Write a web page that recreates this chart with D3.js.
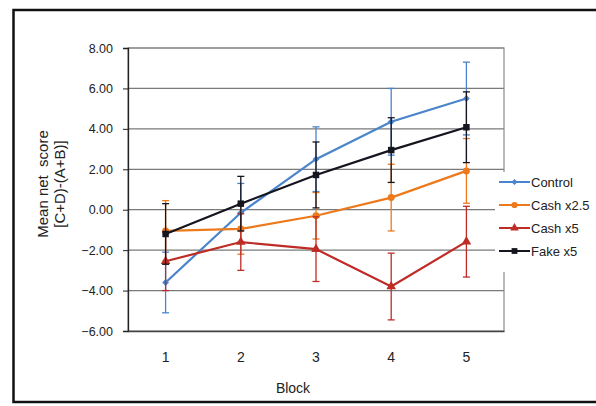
<!DOCTYPE html>
<html>
<head>
<meta charset="utf-8">
<script src="https://cdn.jsdelivr.net/npm/d3@7"></script>
<style>
  html, body { margin: 0; padding: 0; background: #fff; }
  svg { display: block; font-family: "Liberation Sans", Arial, sans-serif; }
</style>
</head>
<body>
<div id="chart"></div>
<script>
// block numbers on the x axis
const blocks = ['1', '2', '3', '4', '5'];
const yTicks = [-6, -4, -2, 0, 2, 4, 6, 8];

// series means and error bar half-widths
const controlMean = [-3.6, -0.15, 2.5, 4.35, 5.5];
const controlErr  = [1.5, 1.45, 1.6, 1.65, 1.8];
const cash25Mean  = [-1.05, -0.95, -0.3, 0.6, 1.92];
const cash25Err   = [1.5, 1.25, 1.15, 1.65, 1.6];
const cash5Mean   = [-2.55, -1.6, -1.95, -3.8, -1.58];
const cash5Err    = [1.45, 1.4, 1.6, 1.65, 1.75];
const fakeMean    = [-1.2, 0.3, 1.72, 2.95, 4.08];
const fakeErr     = [1.5, 1.35, 1.63, 1.6, 1.75];

const series = [
  { name: 'Control',   mean: controlMean, err: controlErr, color: '#4a84cc', marker: d3.symbolDiamond2, size: 30 },
  { name: 'Cash x2.5', mean: cash25Mean,  err: cash25Err,  color: '#ec7a1c', marker: d3.symbolCircle,   size: 38 },
  { name: 'Cash x5',   mean: cash5Mean,   err: cash5Err,   color: '#bd2d26', marker: d3.symbolTriangle, size: 40 },
  { name: 'Fake x5',   mean: fakeMean,    err: fakeErr,    color: '#15151f', marker: d3.symbolSquare,   size: 42 }
];

const W = 596, H = 406;
const plot = { left: 128, right: 504, top: 48, bottom: 331 };

const svg = d3.select('#chart').append('svg')
  .attr('width', W).attr('height', H);

// outer frame (right edge runs off the picture)
svg.append('path')
  .attr('d', `M${W + 5},10 H13.5 V402 H${W + 5}`)
  .attr('fill', 'none').attr('stroke', '#111').attr('stroke-width', 2.5);

const x = d3.scaleBand().domain(blocks).range([plot.left, plot.right]);
const y = d3.scaleLinear().domain([-6, 8]).range([plot.bottom, plot.top]);

// gridlines
svg.append('g').selectAll('line')
  .data(yTicks.filter(t => t > -6))
  .enter().append('line')
  .attr('x1', plot.left).attr('x2', plot.right)
  .attr('y1', d => y(d)).attr('y2', d => y(d))
  .attr('stroke', '#7a7a7a').attr('stroke-width', 1.2);

// plot border
svg.append('rect')
  .attr('x', plot.left).attr('y', plot.top)
  .attr('width', plot.right - plot.left).attr('height', plot.bottom - plot.top)
  .attr('fill', 'none').attr('stroke', '#8a8a8a').attr('stroke-width', 1.2);

// y axis
const yAxis = svg.append('g')
  .attr('transform', `translate(${plot.left},0)`)
  .call(d3.axisLeft(y).tickValues(yTicks).tickFormat(d3.format('.2f')).tickSize(5).tickPadding(10));
yAxis.select('.domain').attr('stroke', '#222').attr('stroke-width', 1.3);
yAxis.selectAll('.tick line').attr('stroke', '#222');
yAxis.selectAll('text').attr('font-size', 12.5).attr('fill', '#222')
  .attr('font-family', '"Liberation Sans", Arial, sans-serif');

// x axis
const xAxis = svg.append('g')
  .attr('transform', `translate(0,${plot.bottom})`)
  .call(d3.axisBottom(x).tickSize(0).tickPadding(21));
xAxis.select('.domain').attr('stroke', '#444').attr('stroke-width', 1.3);
xAxis.selectAll('text').attr('font-size', 14).attr('fill', '#222')
  .attr('font-family', '"Liberation Sans", Arial, sans-serif');

// axis titles
svg.append('text')
  .attr('x', 293).attr('y', 393)
  .attr('text-anchor', 'middle').attr('font-size', 14).attr('fill', '#222')
  .text('Block');

const yTitle = svg.append('text')
  .attr('transform', 'translate(48,184) rotate(-90)')
  .attr('text-anchor', 'middle').attr('font-size', 15).attr('fill', '#222');
yTitle.append('tspan').attr('x', 0).attr('dy', 0).text('Mean net\u00a0 score');
yTitle.append('tspan').attr('x', 0).attr('dy', 17).text('[C+D)-(A+B)]');

// series: error bars, line, markers
const cx = i => x(blocks[i]) + x.bandwidth() / 2;
const line = d3.line().x((d, i) => cx(i)).y(d => y(d));

series.forEach(s => {
  const g = svg.append('g');
  const eb = g.append('g').selectAll('g')
    .data(s.mean.map((m, i) => ({ m, e: s.err[i], i })))
    .enter().append('g')
    .attr('stroke', s.color).attr('stroke-width', 1.3);
  eb.append('line')
    .attr('x1', d => cx(d.i)).attr('x2', d => cx(d.i))
    .attr('y1', d => y(d.m - d.e)).attr('y2', d => y(d.m + d.e));
  eb.append('line')
    .attr('x1', d => cx(d.i) - 3.5).attr('x2', d => cx(d.i) + 3.5)
    .attr('y1', d => y(d.m + d.e)).attr('y2', d => y(d.m + d.e));
  eb.append('line')
    .attr('x1', d => cx(d.i) - 3.5).attr('x2', d => cx(d.i) + 3.5)
    .attr('y1', d => y(d.m - d.e)).attr('y2', d => y(d.m - d.e));

  g.append('path')
    .attr('d', line(s.mean))
    .attr('fill', 'none').attr('stroke', s.color).attr('stroke-width', 2.2);

  g.selectAll('.mk')
    .data(s.mean)
    .enter().append('path')
    .attr('transform', (d, i) => `translate(${cx(i)},${y(d)})`)
    .attr('d', d3.symbol().type(s.marker).size(s.size))
    .attr('fill', s.color);
});

// legend with white backing over the plot's right edge
const legend = svg.append('g');
legend.append('rect')
  .attr('x', 495).attr('y', 172).attr('width', 101).attr('height', 100)
  .attr('fill', '#fff');
const item = legend.selectAll('.item')
  .data(series)
  .enter().append('g')
  .attr('transform', (d, i) => `translate(499,${182 + i * 23})`);
item.append('line')
  .attr('x1', 0).attr('x2', 31)
  .attr('stroke', d => d.color).attr('stroke-width', 2);
item.append('path')
  .attr('transform', 'translate(15.5,0)')
  .attr('d', d => d3.symbol().type(d.marker).size(d.size * 0.8)())
  .attr('fill', d => d.color);
item.append('text')
  .attr('x', 32).attr('dy', '0.35em')
  .attr('font-size', 13).attr('fill', '#222')
  .text(d => d.name);
</script>
</body>
</html>
